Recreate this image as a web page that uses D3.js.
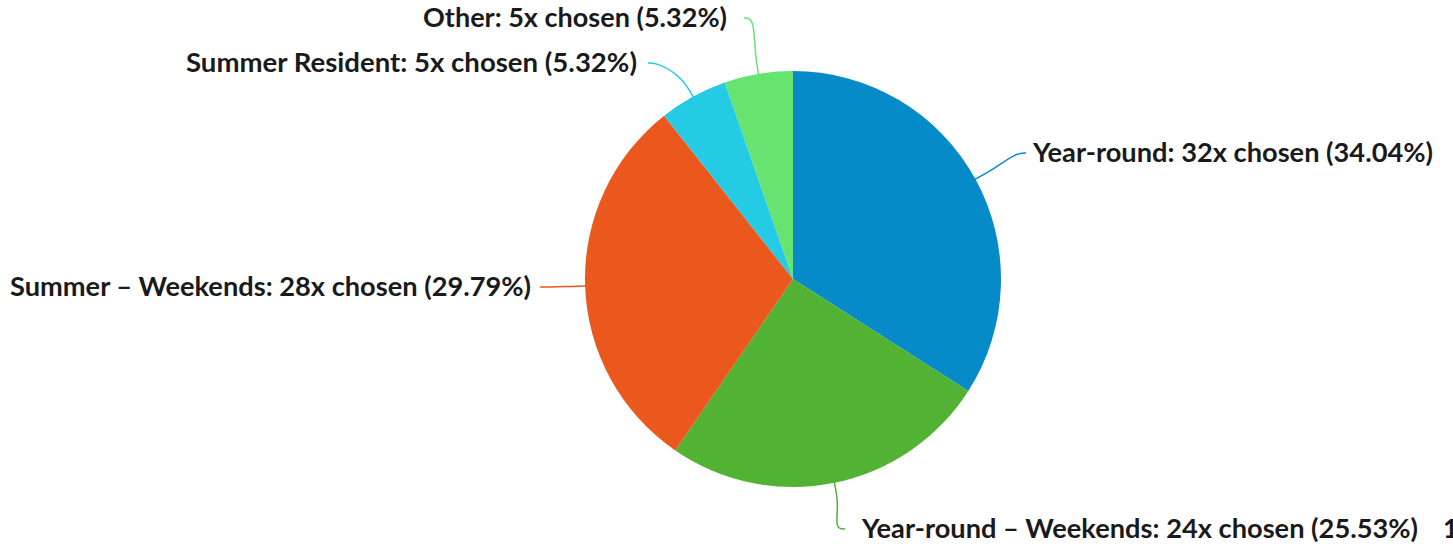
<!DOCTYPE html>
<html>
<head>
<meta charset="utf-8">
<script src="https://cdn.jsdelivr.net/npm/d3@7"></script>
<style>
  body { margin: 0; background: #fff; }
  text { font-family: "Lato", "Open Sans", sans-serif; font-weight: bold; fill: #1a1a1a; }
</style>
</head>
<body>
<div id="chart-area"></div>
<script>
var categories = ["Year-round", "Year-round – Weekends", "Summer – Weekends", "Summer Resident", "Other"];
var counts = [32, 24, 28, 5, 5];
var percents = ["34.04%", "25.53%", "29.79%", "5.32%", "5.32%"];
var colors = ["#078bc8", "#52b233", "#eb581d", "#25cae4", "#66e370"];

// label placement (end of leader line, text anchor side, text width)
var labelLayout = [
  { x: 1026, y: 153, tx: 1033, anchor: "start", w: 400 },
  { x: 845, y: 529, tx: 862, anchor: "start", w: 556 },
  { x: 540, y: 287, tx: 531, anchor: "end", w: 521 },
  { x: 648, y: 63, tx: 637, anchor: "end", w: 451 },
  { x: 744, y: 18, tx: 727, anchor: "end", w: 304 }
];

var width = 1453;
var height = 546;
var cx = 793, cy = 279, radius = 208;

var data = categories.map(function(c, i) {
  return { name: c, value: counts[i], pct: percents[i], color: colors[i], lab: labelLayout[i] };
});

var svg = d3.select("#chart-area")
  .append("svg")
  .attr("width", width)
  .attr("height", height);

var g = svg.append("g")
  .attr("transform", "translate(" + cx + "," + cy + ")");

var pie = d3.pie()
  .sort(null)
  .value(function(d) { return d.value; });

var arc = d3.arc()
  .innerRadius(0)
  .outerRadius(radius);

var arcs = pie(data);

g.selectAll("path.slice")
  .data(arcs)
  .enter()
  .append("path")
  .attr("class", "slice")
  .attr("d", arc)
  .attr("fill", function(d) { return d.data.color; });

var line = d3.line().curve(d3.curveBasis);

g.selectAll("path.leader")
  .data(arcs)
  .enter()
  .append("path")
  .attr("class", "leader")
  .attr("fill", "none")
  .attr("stroke", function(d) { return d.data.color; })
  .attr("stroke-width", 1.5)
  .attr("d", function(d) {
    var a = (d.startAngle + d.endAngle) / 2;
    var p0 = [Math.sin(a) * (radius - 2), -Math.cos(a) * (radius - 2)];
    var p1 = [Math.sin(a) * (radius + 22), -Math.cos(a) * (radius + 22)];
    var end = [d.data.lab.x - cx, d.data.lab.y - cy];
    var dir = d.data.lab.anchor === "start" ? -1 : 1;
    var p2 = [end[0] + dir * 10, end[1]];
    return line([p0, p1, p2, end]);
  });

svg.selectAll("text.label")
  .data(data)
  .enter()
  .append("text")
  .attr("class", "label")
  .attr("x", function(d) { return d.lab.tx; })
  .attr("y", function(d) { return d.lab.y; })
  .attr("dy", "0.35em")
  .attr("text-anchor", function(d) { return d.lab.anchor; })
  .attr("font-size", 26)
  .attr("textLength", function(d) { return d.lab.w; })
  .attr("lengthAdjust", "spacingAndGlyphs")
  .text(function(d) { return d.name + ": " + d.value + "x chosen (" + d.pct + ")"; });

svg.append("text")
  .attr("x", 1443)
  .attr("y", 529)
  .attr("dy", "0.35em")
  .attr("font-size", 26)
  .text("1");
</script>
</body>
</html>
